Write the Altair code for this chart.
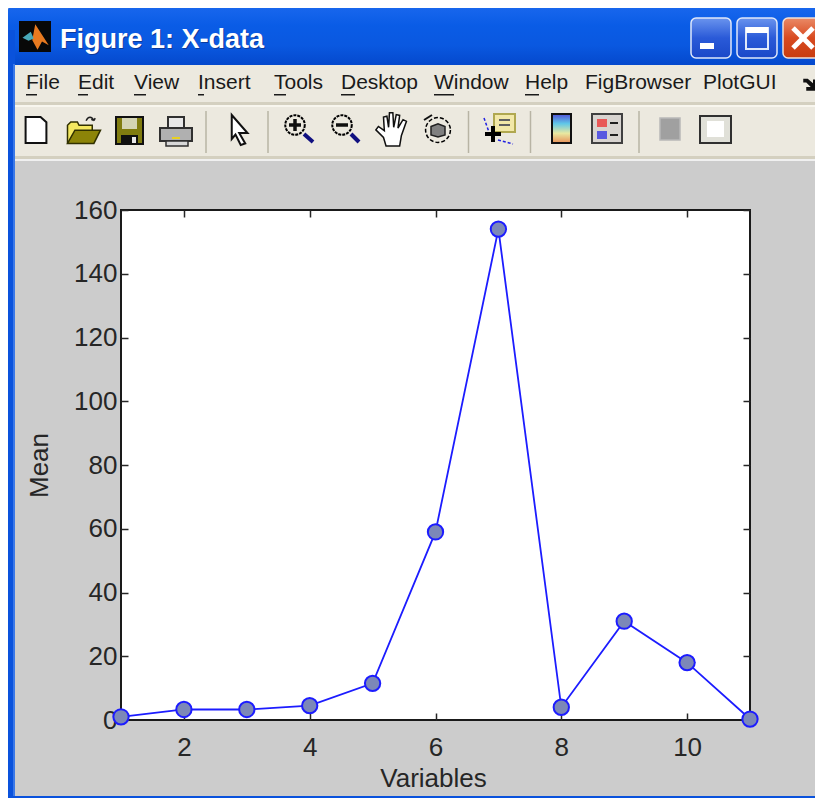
import altair as alt
import pandas as pd

variables = [1, 2, 3, 4, 5, 6, 7, 8, 9, 10, 11]
means = [1, 3.3, 3.3, 4.5, 11.5, 59, 154, 4, 31, 18, 0.3]
x_ticks = [2, 4, 6, 8, 10]
y_ticks = [0, 20, 40, 60, 80, 100, 120, 140, 160]
menu_items = ["File", "Edit", "View", "Insert", "Tools", "Desktop", "Window", "Help", "FigBrowser", "PlotGUI"]
menu_left = [26, 78, 134, 198, 274, 341, 434, 525, 585, 703]
menu_underline = [11, 10, 12, 6, 12, 14, 20, 14, 0, 0]

PL, PT, PW, PH = 121, 210, 629, 510
one = alt.Data(values=[{"a": 1}])
df = pd.DataFrame({"v": variables, "m": means})


def px(v):
    return alt.value(v - PL)


def py(v):
    return alt.value(v - PT)


def rect(x0, y0, x1, y1, fill="none", stroke=None, sw=1, r=0, grad=None):
    kw = dict(strokeWidth=sw)
    if r:
        kw["cornerRadius"] = r
    kw["fill"] = grad if grad is not None else fill
    if stroke:
        kw["stroke"] = stroke
    return alt.Chart(one).mark_rect(**kw).encode(x=px(x0), x2=px(x1), y=py(y0), y2=py(y1))


def seg(x0, y0, x1, y1, color="#000000", sw=2, dash=None):
    kw = dict(color=color, strokeWidth=sw)
    if dash:
        kw["strokeDash"] = dash
    return alt.Chart(one).mark_rule(**kw).encode(x=px(x0), x2=px(x1), y=py(y0), y2=py(y1))


def txt(s, x, y, size=21, color="#1a1a1a", weight="normal", align="left"):
    return alt.Chart(one).mark_text(font="Liberation Sans", fontSize=size, color=color, fontWeight=weight,
                                    align=align, baseline="middle").encode(x=px(x), y=py(y), text=alt.value(s))


def dot(x, y, d, fill="none", stroke="#000000", sw=2, dash=None):
    kw = dict(filled=False, fill=fill, stroke=stroke, strokeWidth=sw, opacity=1, size=3.1416 * d * d / 4)
    if dash:
        kw["strokeDash"] = dash
    return alt.Chart(one).mark_point(**kw).encode(x=px(x), y=py(y))


def shp(path, x, y, d, fill="none", stroke=None, sw=1.5):
    kw = dict(shape=path, filled=False, fill=fill, opacity=1, size=d * d, strokeWidth=sw,
              stroke=stroke if stroke else "transparent")
    return alt.Chart(one).mark_point(**kw).encode(x=px(x), y=py(y))


def vgrad(*cols):
    n = len(cols) - 1
    return alt.Gradient(gradient="linear", x1=0, x2=0, y1=0, y2=1,
                        stops=[alt.GradientStop(offset=i / n, color=c) for i, c in enumerate(cols)])


chrome = [
    rect(7, 5, 840, 66, grad=vgrad("#1a68ee", "#0a5ce6", "#0a58e0", "#0448cc"), r=8),
    rect(7, 30, 15, 798, fill="#0a52dc"),
    rect(13, 64, 15, 796, fill="#3a78e8"),
    rect(7, 796, 823, 798, fill="#0a52dc"),
    rect(15, 65, 823, 160, fill="#ece9df"),
    rect(15, 102, 823, 105, fill="#d4d0c0"),
    rect(15, 105, 823, 107, fill="#f8f6ee"),
    rect(15, 156, 823, 159, fill="#d4d0c0"),
    rect(15, 159, 823, 161, fill="#f0f0f0"),
    # title bar
    rect(19, 21, 51, 52, fill="#080808"),
    shp("M-.05,-.85 L.85,.55 L.4,.3 L.1,.85 L-.25,.2 Z", 36, 37, 30, fill="#e87a20"),
    shp("M-.9,.05 L-.35,-.35 L-.15,.1 L-.5,.25 Z", 36, 37, 30, fill="#48a8b8"),
    txt("Figure 1: X-data", 61, 41, size=27, color="#0a3a9c", weight="bold"),
    txt("Figure 1: X-data", 60, 40, size=27, color="#ffffff", weight="bold"),
    rect(691, 18, 731, 58, grad=vgrad("#6a94ee", "#2a5ad8", "#1a48c8"), stroke="#dfe8fa", sw=1.5, r=5),
    rect(700, 43, 714, 49, fill="#ffffff"),
    rect(737, 18, 777, 58, grad=vgrad("#6a94ee", "#2a5ad8", "#1a48c8"), stroke="#dfe8fa", sw=1.5, r=5),
    rect(746, 28, 768, 49, fill="none", stroke="#dfe8fa", sw=2),
    rect(746, 27, 768, 33, fill="#ffffff"),
    rect(783, 18, 830, 58, grad=vgrad("#ea8a66", "#d84a20", "#c83c10"), stroke="#f0e0d8", sw=1.5, r=5),
    seg(793, 28, 813, 48, "#ffffff", 5),
    seg(813, 28, 793, 48, "#ffffff", 5),
]

for name, left, ul in zip(menu_items, menu_left, menu_underline):
    chrome.append(txt(name, left, 83, size=21))
    if ul:
        chrome.append(rect(left, 94, left + ul, 95.5, fill="#1a1a1a"))
chrome.append(shp("M-.9,-.7 L-.3,-.7 L.4,-.1 L.4,-.6 L.9,-.6 L.9,.9 L-.5,.9 L-.5,.4 L.1,.4 L-.5,-.2 L-.9,-.2 Z",
                  810, 84, 15, fill="#101010"))

SEP = "#b8b4a4"
icons = [
    # new
    shp("M-.8,-1 L.35,-1 L.8,-.6 L.8,1 L-.8,1 Z", 36, 130, 26, fill="#ffffff", stroke="#101010", sw=2),
    # open
    shp("M-1,.7 L-1,-.35 L-.8,-.55 L-.4,-.55 L-.3,-.35 L.5,-.35 L.5,.7 Z", 84, 131, 33, fill="#f4e860", stroke="#303000", sw=1.5),
    shp("M-1,.75 L-.55,-.05 L1,-.05 L.6,.75 Z", 84, 131, 33, fill="#8c8408", stroke="#303000", sw=1.5),
    shp("M-.6,-.2 C-.3,-.9 .3,-.9 .6,-.2 M.6,-.2 L.2,-.4 M.6,-.2 L.8,-.6", 90, 122, 13, stroke="#202020", sw=1.5),
    # save
    rect(116, 117, 143, 144, fill="#807c10", stroke="#101010", sw=2),
    rect(122, 118, 137, 129, fill="#d4d4b4"),
    rect(121, 135, 138, 144, fill="#101010"),
    rect(132, 137, 136, 143, fill="#e8e8e8"),
    # print
    rect(168, 117, 184, 130, fill="#e8e8e8", stroke="#303030", sw=2),
    rect(160, 128, 192, 141, fill="#b0b0b0", stroke="#303030", sw=2),
    rect(172, 137, 180, 139, fill="#e8d020"),
    rect(166, 141, 188, 146, fill="#d8d8d8", stroke="#303030", sw=1.5),
    # separators
    seg(206, 111, 206, 153, SEP, 1.5),
    seg(268, 111, 268, 153, SEP, 1.5),
    seg(468.5, 111, 468.5, 153, SEP, 1.5),
    seg(530.5, 111, 530.5, 153, SEP, 1.5),
    seg(639, 111, 639, 153, SEP, 1.5),
    # arrow
    shp("M-.55,-1 L.5,.2 L-.05,.2 L.35,.9 L.05,1 L-.3,.3 L-.55,.6 Z", 240, 130, 30, fill="#ffffff", stroke="#101010", sw=2),
    # zoom in
    dot(295, 125, 22, dash=[3, 1]),
    seg(304, 134, 313, 142, "#101080", 4),
    seg(289, 125, 301, 125, "#101010", 3.5),
    seg(295, 119, 295, 131, "#101010", 3.5),
    # zoom out
    dot(342, 125, 22, dash=[3, 1]),
    seg(351, 134, 359, 142, "#101080", 4),
    seg(336, 125, 348, 125, "#101010", 3.5),
    # hand
    shp("M-.35,1 L-.5,.5 L-.95,.05 L-.8,-.15 L-.45,.1 L-.5,-.7 L-.3,-.75 L-.2,-.1 L-.15,-.95 L.05,-.95 L.1,-.1 "
        "L.25,-.85 L.45,-.8 L.35,-.05 L.65,-.55 L.85,-.45 L.55,.4 L.45,1 Z", 392, 129, 34,
        fill="#ffffff", stroke="#101010", sw=1.5),
    # rotate
    dot(438, 130, 28, sw=1.5, dash=[4, 2]),
    shp("M-1,-.5 L0,-.9 L1,-.5 L1,.7 L0,1 L-1,.7 Z", 438, 130, 14, fill="#808080", stroke="#202020", sw=1.5),
    seg(424, 120, 432, 115, "#101010", 2),
    # data cursor
    seg(484, 118, 490, 135, "#2020e0", 1.5, [3, 2]),
    seg(498, 140, 513, 144, "#2020e0", 1.5, [3, 2]),
    rect(494, 114, 515, 132, fill="#f2e8a8", stroke="#b0a850", sw=2),
    seg(499, 120, 510, 120, "#606060", 2),
    seg(499, 125, 510, 125, "#606060", 2),
    seg(485, 134, 501, 134, "#000000", 4),
    seg(493, 126, 493, 142, "#000000", 4),
    # colorbar
    rect(552, 114, 571, 143, grad=vgrad("#5050d8", "#60c8e8", "#e8e8a0", "#e89058"), stroke="#101010", sw=2),
    # legend
    rect(592, 114, 622, 143, fill="#d8d4d0", stroke="#404040", sw=2),
    rect(597, 119, 607, 127, fill="#e85858"),
    rect(597, 131, 607, 139, fill="#5858e0"),
    seg(610, 123, 618, 123, "#202020", 2),
    seg(610, 135, 618, 135, "#202020", 2),
    # hide plot tools
    rect(660, 118, 680, 140, fill="#a0a0a0", stroke="#b8b8b8", sw=1.5),
    rect(700, 116, 731, 143, fill="#e0e0d8", stroke="#303030", sw=2),
    rect(707, 121, 724, 137, fill="#ffffff"),
]

tick_kw = dict(labels=False, title=None, domain=False, grid=False, tickSize=7, tickWidth=1.5, tickColor="#262626")
lab_kw = dict(tickSize=0, domain=False, grid=False, labelFontSize=26, labelFont="Liberation Sans",
              labelColor="#262626", titleFontSize=26, titleFont="Liberation Sans", titleColor="#262626",
              titleFontWeight="normal")
xs = alt.Scale(domain=[1, 11], nice=False)
ys = alt.Scale(domain=[0, 160], nice=False)

base = alt.Chart(df)
ghost = base.mark_line(opacity=0)

tick_a = ghost.encode(
    x=alt.X("v:Q", scale=xs, axis=alt.Axis(orient="top", offset=-PH, values=x_ticks, **tick_kw)),
    y=alt.Y("m:Q", scale=ys, axis=alt.Axis(orient="right", offset=-PW, values=y_ticks, **tick_kw)),
)
tick_b = ghost.encode(
    x=alt.X("v:Q", scale=xs, axis=alt.Axis(orient="bottom", offset=-PH, values=x_ticks, **tick_kw)),
    y=alt.Y("m:Q", scale=ys, axis=alt.Axis(orient="left", offset=-PW, values=y_ticks, **tick_kw)),
)
line = base.mark_line(color="#1c1cff", strokeWidth=1.8).encode(
    x=alt.X("v:Q", scale=xs, axis=alt.Axis(orient="bottom", values=x_ticks, title="Variables", format="d",
                                           labelPadding=14, titlePadding=5, titleX=312, **lab_kw)),
    y=alt.Y("m:Q", scale=ys, axis=alt.Axis(orient="left", values=y_ticks, title="Mean", format="d",
                                           labelPadding=4, titlePadding=21, **lab_kw)),
)
points = base.mark_point(filled=False, fill="#7c88b8", stroke="#1c1cff", strokeWidth=2, opacity=1, size=235).encode(
    x=alt.X("v:Q", scale=xs, axis=None),
    y=alt.Y("m:Q", scale=ys, axis=None),
)

chart = alt.layer(*chrome, *icons, tick_a, tick_b, line, points).resolve_axis(
    x="independent", y="independent"
).properties(
    width=PW, height=PH,
    padding={"left": PL - 8, "top": PT - 8, "right": 65, "bottom": 78},
    autosize=alt.AutoSizeParams(type="none"),
    background="#cccccc",
).configure_view(fill="#ffffff", stroke="#1a1a1a", strokeWidth=2)

chart.save("out.html", embed_options={"renderer": "svg", "actions": False})
